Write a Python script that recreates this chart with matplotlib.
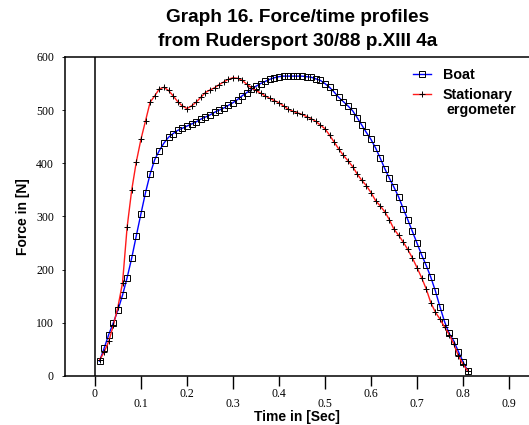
import matplotlib
matplotlib.use("Agg")
import matplotlib.pyplot as plt

# sample times [s], both series sampled every 0.01 s
time_s = [0.01, 0.02, 0.03, 0.04, 0.05, 0.06, 0.07, 0.08, 0.09, 0.10,
          0.11, 0.12, 0.13, 0.14, 0.15, 0.16, 0.17, 0.18, 0.19, 0.20,
          0.21, 0.22, 0.23, 0.24, 0.25, 0.26, 0.27, 0.28, 0.29, 0.30,
          0.31, 0.32, 0.33, 0.34, 0.35, 0.36, 0.37, 0.38, 0.39, 0.40,
          0.41, 0.42, 0.43, 0.44, 0.45, 0.46, 0.47, 0.48, 0.49, 0.50,
          0.51, 0.52, 0.53, 0.54, 0.55, 0.56, 0.57, 0.58, 0.59, 0.60,
          0.61, 0.62, 0.63, 0.64, 0.65, 0.66, 0.67, 0.68, 0.69, 0.70,
          0.71, 0.72, 0.73, 0.74, 0.75, 0.76, 0.77, 0.78, 0.79, 0.80,
          0.81]

boat_force = [28, 52, 78, 100, 124, 152, 185, 222, 264, 305,
              345, 380, 407, 424, 438, 449, 456, 462, 466, 470,
              474, 478, 483, 487, 491, 496, 500, 504, 509, 514,
              520, 527, 533, 539, 545, 550, 554, 558, 561, 563,
              564, 564, 564, 564, 564, 563, 562, 559, 556, 550,
              543, 534, 524, 516, 508, 499, 486, 472, 458, 445,
              429, 410, 390, 372, 355, 337, 315, 294, 272, 250,
              228, 208, 186, 160, 130, 102, 80, 66, 46, 27,
              10]

ergo_force = [30, 45, 65, 95, 130, 175, 280, 350, 403, 445,
              480, 515, 527, 540, 543, 537, 527, 516, 508, 503,
              508, 515, 524, 533, 538, 542, 548, 553, 558, 561,
              560, 556, 549, 542, 537, 532, 527, 522, 518, 514,
              508, 502, 498, 495, 492, 488, 484, 479, 472, 465,
              453, 440, 427, 415, 405, 394, 380, 368, 358, 345,
              330, 320, 309, 294, 276, 265, 252, 238, 222, 204,
              185, 164, 138, 120, 107, 92, 78, 60, 38, 22,
              10]

even_ticks = [0, 0.2, 0.4, 0.6, 0.8]
even_labels = ["0", "0.2", "0.4", "0.6", "0.8"]
odd_ticks = [0.1, 0.3, 0.5, 0.7, 0.9]
odd_labels = ["0.1", "0.3", "0.5", "0.7", "0.9"]
y_ticks = [0, 100, 200, 300, 400, 500, 600]

fig = plt.figure(figsize=(5.29, 4.25), dpi=100)
ax = fig.add_axes([0.1229, 0.1153, 0.8771, 0.7506])

ax.plot(time_s, boat_force, color="blue", lw=1.0, marker="s", ms=4.6,
        mfc="none", mec="black", mew=0.7, label="Boat", zorder=3)
ax.plot(time_s, ergo_force, color="#ff1a1a", lw=1.0, marker="+", ms=5,
        mec="black", mew=0.7, label="Stationary", zorder=3)

ax.axvline(0, color="black", lw=1.1)

ax.set_xlim(-0.065, 0.9435)
ax.set_ylim(0, 600)

ax.set_xticks(even_ticks)
ax.set_xticklabels(even_labels, family="Liberation Serif", fontsize=8.5)
ax.set_xticks(odd_ticks, minor=True)
ax.set_xticklabels(odd_labels, minor=True, family="Liberation Serif", fontsize=8.5)
ax.tick_params(axis="x", which="major", direction="out", length=7, width=1, pad=2)
ax.tick_params(axis="x", which="minor", direction="out", length=9, width=1, pad=7)

ax.set_yticks(y_ticks)
ax.set_yticklabels([str(v) for v in y_ticks], family="Liberation Serif", fontsize=8.5)
ax.tick_params(axis="y", direction="out", length=2, width=0.6, pad=6)

ax.spines["right"].set_visible(False)
for side in ["left", "top", "bottom"]:
    ax.spines[side].set_linewidth(1.1)

ax.set_xlabel("Time in [Sec]", family="Liberation Sans", fontweight="bold",
              fontsize=10, labelpad=0)
ax.set_ylabel("Force in [N]", family="Liberation Sans", fontweight="bold",
              fontsize=10, labelpad=4)

title_font = dict(ha="center", va="center", family="Liberation Sans",
                  fontweight="bold", fontsize=13.7)
fig.text(0.563, 1 - 18 / 425, "Graph 16. Force/time profiles", **title_font)
fig.text(0.563, 1 - 42 / 425, "from Rudersport 30/88 p.XIII 4a", **title_font)

leg = ax.legend(loc="upper left", bbox_to_anchor=(0.75, 0.965), frameon=False,
                borderpad=0, borderaxespad=0, handlelength=1.25, handletextpad=0.85,
                labelspacing=0.4,
                prop={"family": "Liberation Sans", "weight": "bold", "size": 10.3})
fig.text(446.7 / 529, 1 - 110 / 425, "ergometer", ha="left", va="center",
         family="Liberation Sans", fontweight="bold", fontsize=10.3)

fig.savefig("out.png", dpi=100)
